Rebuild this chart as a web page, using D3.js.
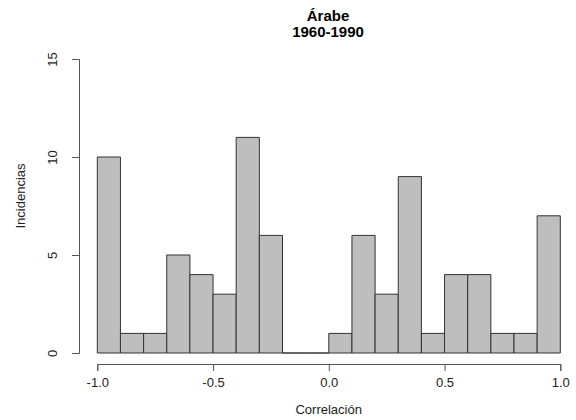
<!DOCTYPE html>
<html><head><meta charset="utf-8">
<script src="https://cdn.jsdelivr.net/npm/d3@7"></script>
<style>body{margin:0;background:#fff;} text{font-family:"Liberation Sans",Arial,sans-serif;}</style>
</head><body>
<svg id="c" width="576" height="420"></svg>
<script>
const binStarts = [-1.0,-0.9,-0.8,-0.7,-0.6,-0.5,-0.4,-0.3,-0.2,-0.1,0.0,0.1,0.2,0.3,0.4,0.5,0.6,0.7,0.8,0.9];
const counts = [10,1,1,5,4,3,11,6,0,0,1,6,3,9,1,4,4,1,1,7];
const binWidth = 0.1;
const xTicks = [-1.0,-0.5,0.0,0.5,1.0];
const yTicks = [0,5,10,15];
const titleLines = ["Árabe","1960-1990"];
const xLabel = "Correlación";
const yLabel = "Incidencias";

const svg = d3.select("#c");
const x = d3.scaleLinear().domain([-1,1]).range([97.3,560.3]);
const y = d3.scaleLinear().domain([0,15]).range([353,59]);

svg.append("g").selectAll("path").data(binStarts).join("path")
  .attr("d",(d,i)=>{const x0=x(d),x1=x(d+binWidth),y0=y(0),y1=y(counts[i]);
     return `M${x0},${y0}H${x1}V${y1}H${x0}Z`;})
  .attr("fill","#bebebe").attr("stroke","#333").attr("stroke-width",1);

const xa = svg.append("g").attr("transform","translate(0,364)")
  .call(d3.axisBottom(x).tickValues(xTicks).tickFormat(d=>d.toFixed(1)).tickSize(7).tickPadding(7));
const ya = svg.append("g").attr("transform","translate(79,0)")
  .call(d3.axisLeft(y).tickValues(yTicks).tickSize(7).tickPadding(0));
[xa,ya].forEach(a=>{
  a.select(".domain").attr("stroke","#555");
  a.selectAll(".tick line").attr("stroke","#555");
  a.selectAll("text").attr("fill","#222").style("font-size","13px").attr("font-family","Liberation Sans, Arial, sans-serif");
});
ya.selectAll(".tick text").each(function(){
  d3.select(this).attr("transform","translate(-27,0) rotate(-90)").attr("x",0).attr("y",0).attr("dy","0.35em").attr("text-anchor","middle");
});

svg.append("text").attr("x",328.7).attr("y",413.5).attr("text-anchor","middle")
  .style("font-size","13px").attr("fill","#222").text(xLabel);
svg.append("text").attr("transform","translate(20,196) rotate(-90)").attr("dy","0.35em").attr("text-anchor","middle")
  .style("font-size","13px").attr("fill","#222").text(yLabel);
svg.selectAll(".title").data(titleLines).join("text").attr("class","title")
  .attr("x",328).attr("y",(d,i)=>21+i*16).attr("text-anchor","middle")
  .style("font-size","15px").style("font-weight","bold").attr("fill","#000").text(d=>d);
</script>
</body></html>
